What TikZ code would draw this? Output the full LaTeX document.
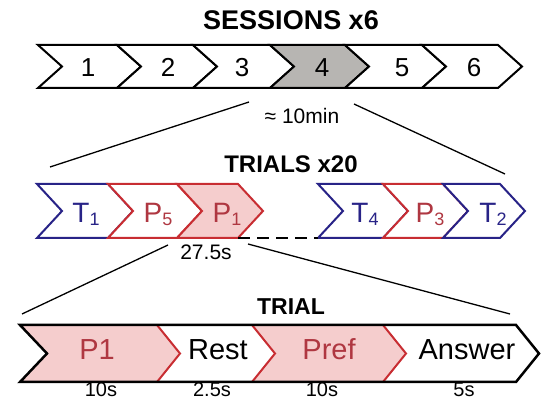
\documentclass[tikz,border=0pt]{standalone}
\usepackage{fontspec}
\setmainfont{Liberation Sans}
\definecolor{cblue}{RGB}{40,35,135}
\definecolor{cred}{RGB}{200,45,50}
\definecolor{cpink}{RGB}{245,205,205}
\definecolor{cgray}{RGB}{183,181,178}
\definecolor{ctred}{RGB}{175,55,65}
\newcommand{\mychev}[6][]{\draw[#1] (#2,#4) -- (#3,#4) -- ({#3+#6},{(#4+#5)/2}) -- (#3,#5) -- (#2,#5) -- ({#2+#6},{(#4+#5)/2}) -- cycle;}
\newcommand{\mysub}[1]{\raisebox{-3pt}{\fontsize{18}{18}\selectfont #1}}
\tikzset{
  sess/.style={draw=black, line width=2pt, fill=white},
  sessg/.style={draw=black, line width=2pt, fill=cgray},
  tblue/.style={draw=cblue, line width=2pt, fill=white},
  tred/.style={draw=cred, line width=2pt, fill=white},
  tredf/.style={draw=cred, line width=2pt, fill=cpink},
  title/.style={inner sep=0pt, anchor=base, font=\bfseries},
  num/.style={inner sep=0pt, anchor=base, font=\fontsize{26}{28}\selectfont},
  tlab/.style={inner sep=0pt, anchor=base, font=\fontsize{28}{30}\selectfont},
  blab/.style={inner sep=0pt, anchor=base, font=\fontsize{29}{30}\selectfont},
  dur/.style={inner sep=0pt, anchor=base, font=\fontsize{20}{22}\selectfont},
  zoomline/.style={draw=black, line width=1.3pt},
}
\begin{document}
\begin{tikzpicture}[x=1pt,y=-1pt,line join=miter]
\useasboundingbox (0,0) rectangle (542,401);
% ---------- sessions ----------
\node[title, font=\fontsize{27}{30}\selectfont\bfseries] (st) at (291,30) {SESSIONS x6};
\mychev[sess]{38}{117}{45}{88}{24}
\mychev[sess]{117}{193}{45}{88}{24}
\mychev[sess]{193}{270}{45}{88}{24}
\mychev[sessg]{270}{345}{45}{88}{24}
\mychev[sess]{345}{422}{45}{88}{24}
\mychev[sess]{422}{498}{45}{88}{24}
\node[num] (s1) at (88,77) {1};
\node[num] (s2) at (168,77) {2};
\node[num] (s3) at (242,77) {3};
\node[num] (s4) at (322,77) {4};
\node[num] (s5) at (402,77) {5};
\node[num] (s6) at (474,77) {6};
\node[dur, font=\fontsize{21}{22}\selectfont] (tmin) at (302,124) {≈ 10min};
\coordinate (a1) at (249,102);
\coordinate (a2) at (50,167);
\coordinate (b1) at (354,104);
\coordinate (b2) at (505,174);
\draw[zoomline] (a1) -- (a2);
\draw[zoomline] (b1) -- (b2);
% ---------- trials ----------
\node[title, font=\fontsize{24}{26}\selectfont\bfseries] (tt) at (291,173) {TRIALS x20};
\mychev[tblue]{37}{108}{184}{238}{25}
\mychev[tred]{108}{177}{184}{238}{25}
\mychev[tredf]{177}{238}{184}{238}{25}
\mychev[tblue]{318}{383}{184}{238}{25}
\mychev[tred]{383}{443}{184}{238}{25}
\mychev[tblue]{443}{500}{184}{238}{25}
\coordinate (d1) at (238,238);
\coordinate (d2) at (318,238);
\draw[line width=2.5pt, dash pattern=on 12pt off 7pt] (d1) -- (d2);
\node[tlab, text=cblue] (t1) at (86,223) {T\mysub{1}};
\node[tlab, text=ctred] (p5) at (158,223) {P\mysub{5}};
\node[tlab, text=ctred] (p1) at (227,223) {P\mysub{1}};
\node[tlab, text=cblue] (t4) at (365,223) {T\mysub{4}};
\node[tlab, text=ctred] (p3) at (430,223) {P\mysub{3}};
\node[tlab, text=cblue] (t2) at (493,223) {T\mysub{2}};
\node[dur, font=\fontsize{21}{22}\selectfont] (tsec) at (206,260) {27.5s};
\coordinate (c1) at (168,245);
\coordinate (c2) at (22,314);
\coordinate (e1) at (248,244);
\coordinate (e2) at (510,314);
\draw[zoomline] (c1) -- (c2);
\draw[zoomline] (e1) -- (e2);
% ---------- trial ----------
\node[title, font=\fontsize{23}{26}\selectfont\bfseries] (tr) at (291,315) {TRIAL};
\fill[cpink] (20,325) -- (157,325) -- (180,353.5) -- (157,382) -- (20,382) -- (47,353.5) -- cycle;
\fill[cpink] (252,325) -- (383,325) -- (406,353.5) -- (383,382) -- (252,382) -- (275,353.5) -- cycle;
\draw[cred, line width=2pt] (157,325) -- (180,353.5) -- (157,382);
\draw[cred, line width=2pt] (252,325) -- (275,353.5) -- (252,382);
\draw[cred, line width=2pt] (383,325) -- (406,353.5) -- (383,382);
\draw[black, line width=2.5pt] (20,325) -- (516,325) -- (539,353.5) -- (516,382) -- (20,382) -- (47,353.5) -- cycle;
\node[blab, text=ctred] (lp1) at (97,360) {P1};
\node[blab] (lrest) at (218,360) {Rest};
\node[blab, text=ctred] (lpref) at (329,360) {Pref};
\node[blab] (lans) at (467,360) {Answer};
\node[dur] (d10a) at (101,397) {10s};
\node[dur] (d25) at (212,397) {2.5s};
\node[dur] (d10b) at (322,397) {10s};
\node[dur] (d5) at (464,397) {5s};
\end{tikzpicture}
\end{document}
